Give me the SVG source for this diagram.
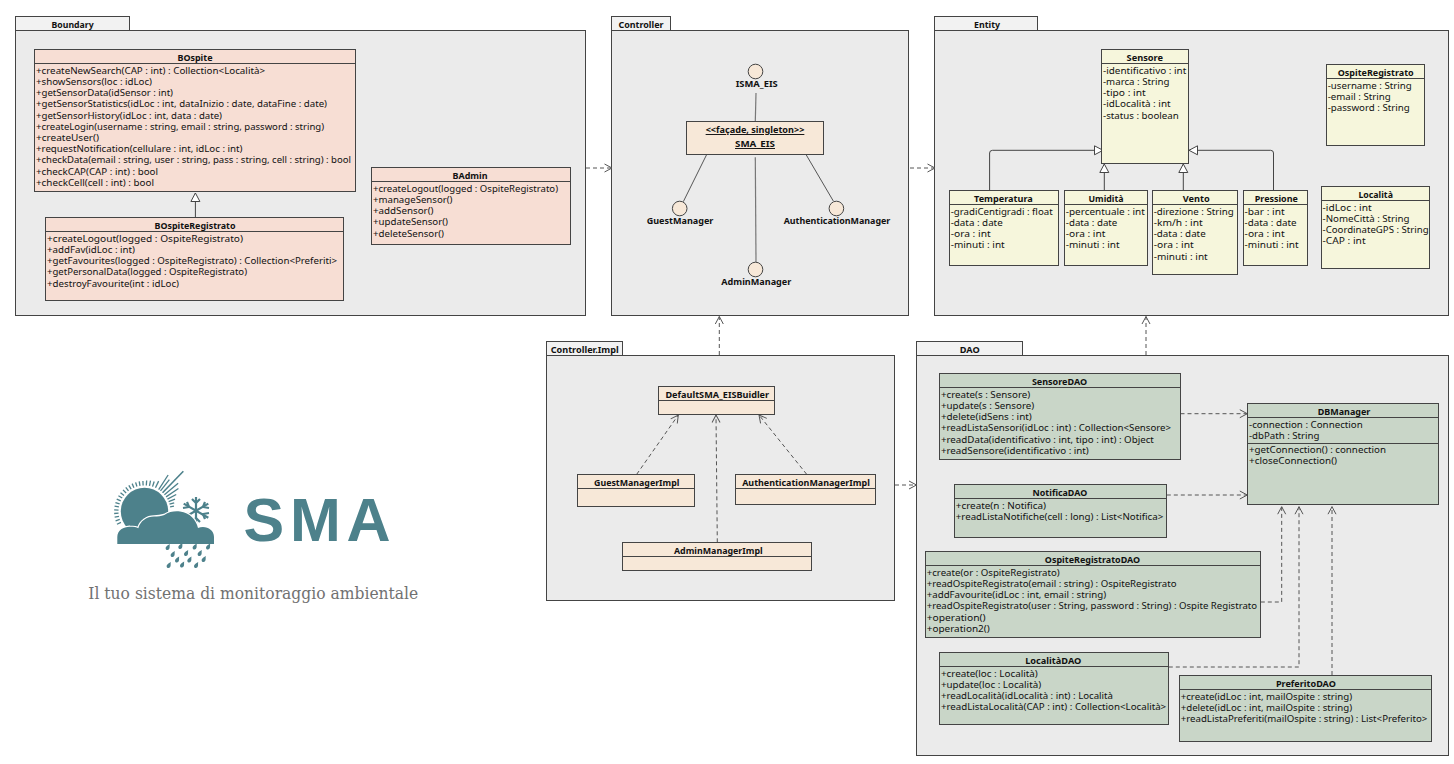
<svg xmlns="http://www.w3.org/2000/svg" width="1454" height="764" viewBox="0 0 1454 764">
<style>
text{font-family:"Noto Sans","Open Sans","DejaVu Sans",sans-serif;font-size:9.6px;fill:#111}
.t{font-weight:700;text-anchor:middle}
.u{text-decoration:underline}
.pk rect,.cl rect{stroke:#444;stroke-width:1}
.pk rect{fill:#ebebeb}
.pk rect.tab{fill:#f2f2f2}
.cl line{stroke:#444;stroke-width:1}
.b rect{fill:#f7ded4}
.c rect{fill:#f7e8d8}
.e rect{fill:#f6f6dc}
.d rect{fill:#c9d6c8}
.if circle{fill:#f7e8d8;stroke:#444;stroke-width:1}
.sol{fill:none;stroke:#555;stroke-width:1}
.gr{fill:none;stroke:#777;stroke-width:1.2}
.gen{fill:none;stroke:#444;stroke-width:1;marker-end:url(#tri)}
.dep{fill:none;stroke:#555;stroke-width:1;stroke-dasharray:4 3;marker-end:url(#open)}
.ray{stroke:#4d818b;stroke-width:1.3}
.logo{fill:#4d818b}
.sn{stroke:#4d818b;stroke-width:2.2;fill:none}
</style>
<defs>
<marker id="open" markerUnits="userSpaceOnUse" markerWidth="12" markerHeight="12" refX="10" refY="6" orient="auto"><path d="M2.5 2L10 6L2.5 10" fill="none" stroke="#555" stroke-width="1"/></marker>
<marker id="tri" markerUnits="userSpaceOnUse" markerWidth="12" markerHeight="12" refX="10" refY="6" orient="auto"><path d="M1.5 1.5L10 6L1.5 10.5Z" fill="#fff" stroke="#444" stroke-width="1"/></marker>
<path id="drop" d="M2.5 -4C2 -2 3 0 1.5 1.6C0 2.8 -2.2 1.4 -1.6 -.6C-1 -2 1 -3 2.5 -4Z"/>
</defs>

<g id="pkg-boundary" class="pk"><rect class="tab" x="15.5" y="16.5" width="114" height="14"/><rect x="15.5" y="30.5" width="570" height="285"/><text class="t" x="72.6" y="27.8" textLength="42" lengthAdjust="spacingAndGlyphs">Boundary</text></g>
<g id="pkg-controller" class="pk"><rect class="tab" x="611.5" y="16.5" width="59" height="14"/><rect x="611.5" y="30.5" width="297" height="285"/><text class="t" x="641" y="27.8" textLength="45" lengthAdjust="spacingAndGlyphs">Controller</text></g>
<g id="pkg-entity" class="pk"><rect class="tab" x="934.5" y="16.5" width="103" height="14"/><rect x="934.5" y="30.5" width="514" height="285"/><text class="t" x="987" y="27.8" textLength="26" lengthAdjust="spacingAndGlyphs">Entity</text></g>
<g id="pkg-controller-impl" class="pk"><rect class="tab" x="546.5" y="341.5" width="76" height="14"/><rect x="546.5" y="355.5" width="348" height="245"/><text class="t" x="584.7" y="353" textLength="68" lengthAdjust="spacingAndGlyphs">Controller.Impl</text></g>
<g id="pkg-dao" class="pk"><rect class="tab" x="916.5" y="341.5" width="106" height="14"/><rect x="916.5" y="355.5" width="532" height="400"/><text class="t" x="969.7" y="353" textLength="20" lengthAdjust="spacingAndGlyphs">DAO</text></g>

<g id="connectors">
<path class="dep" d="M586 168H612"/>
<path class="dep" d="M910 168H935"/>
<path class="dep" d="M719.3 355V316.5"/>
<path class="dep" d="M1146 355V316.5"/>
<path class="dep" d="M895 485H916.5"/>
<path class="gen" d="M195.4 217V193"/>
<path class="gr" d="M756 93L755.3 121"/>
<path class="sol" d="M706.7 154.5L683.3 201.7"/>
<path class="sol" d="M806 154.5L833.3 201"/>
<path class="gr" d="M755.3 157.3L756 262"/>
<path class="gen" d="M989.6 190V153Q989.6 150.3 992.6 150.3H1103"/>
<path class="gen" d="M1273.5 190V153Q1273.5 150.3 1270.5 150.3H1189"/>
<path class="gen" d="M1104.3 190V164"/>
<path class="gen" d="M1183.3 190V164"/>
<path class="dep" d="M636.7 474.3L678.3 415"/>
<path class="dep" d="M806.7 474.3L759 415"/>
<path class="dep" d="M717.3 542.3L716 415"/>
<path class="dep" d="M1180.5 413.7H1247.3"/>
<path class="dep" d="M1166.8 495H1247.3"/>
<path class="dep" d="M1260.8 602H1281.7V506.7"/>
<path class="dep" d="M1168.8 667H1299V506.7"/>
<path class="dep" d="M1332 675V506.7"/>
</g>

<g id="BOspite" class="cl b"><rect x="34.5" y="49.5" width="321" height="142"/><line x1="34.5" y1="63.5" x2="355.5" y2="63.5"/>
<text class="t" x="195" y="61" textLength="35" lengthAdjust="spacingAndGlyphs">BOspite</text>
<text x="36" y="74" textLength="229" lengthAdjust="spacingAndGlyphs">+createNewSearch(CAP : int) : Collection&lt;Località&gt;</text>
<text x="36" y="85" textLength="116" lengthAdjust="spacingAndGlyphs">+showSensors(loc : idLoc)</text>
<text x="36" y="96" textLength="137" lengthAdjust="spacingAndGlyphs">+getSensorData(idSensor : int)</text>
<text x="36" y="107" textLength="291" lengthAdjust="spacingAndGlyphs">+getSensorStatistics(idLoc : int, dataInizio : date, dataFine : date)</text>
<text x="36" y="119" textLength="186" lengthAdjust="spacingAndGlyphs">+getSensorHistory(idLoc : int, data : date)</text>
<text x="36" y="130" textLength="288" lengthAdjust="spacingAndGlyphs">+createLogin(username : string, email : string, password : string)</text>
<text x="36" y="141" textLength="63" lengthAdjust="spacingAndGlyphs">+createUser()</text>
<text x="36" y="152" textLength="206.5" lengthAdjust="spacingAndGlyphs">+requestNotification(cellulare : int, idLoc : int)</text>
<text x="36" y="163" textLength="315" lengthAdjust="spacingAndGlyphs">+checkData(email : string, user : string, pass : string, cell : string) : bool</text>
<text x="36" y="175" textLength="122" lengthAdjust="spacingAndGlyphs">+checkCAP(CAP : int) : bool</text>
<text x="36" y="186" textLength="118" lengthAdjust="spacingAndGlyphs">+checkCell(cell : int) : bool</text>
</g>
<g id="BOspiteRegistrato" class="cl b"><rect x="45.5" y="217.5" width="298" height="83"/><line x1="45.5" y1="231.5" x2="343.5" y2="231.5"/>
<text class="t" x="195" y="229" textLength="81" lengthAdjust="spacingAndGlyphs">BOspiteRegistrato</text>
<text x="47" y="242" textLength="196" lengthAdjust="spacingAndGlyphs">+createLogout(logged : OspiteRegistrato)</text>
<text x="47" y="253" textLength="88" lengthAdjust="spacingAndGlyphs">+addFav(idLoc : int)</text>
<text x="47" y="264" textLength="290" lengthAdjust="spacingAndGlyphs">+getFavourites(logged : OspiteRegistrato) : Collection&lt;Preferiti&gt;</text>
<text x="47" y="275" textLength="200" lengthAdjust="spacingAndGlyphs">+getPersonalData(logged : OspiteRegistrato)</text>
<text x="47" y="287" textLength="132" lengthAdjust="spacingAndGlyphs">+destroyFavourite(int : idLoc)</text>
</g>
<g id="BAdmin" class="cl b"><rect x="371.5" y="167.5" width="199" height="77"/><line x1="371.5" y1="181.5" x2="570.5" y2="181.5"/>
<text class="t" x="470" y="179" textLength="35" lengthAdjust="spacingAndGlyphs">BAdmin</text>
<text x="373" y="192" textLength="185" lengthAdjust="spacingAndGlyphs">+createLogout(logged : OspiteRegistrato)</text>
<text x="373" y="203" textLength="79.5" lengthAdjust="spacingAndGlyphs">+manageSensor()</text>
<text x="373" y="214" textLength="60.5" lengthAdjust="spacingAndGlyphs">+addSensor()</text>
<text x="373" y="225" textLength="75" lengthAdjust="spacingAndGlyphs">+updateSensor()</text>
<text x="373" y="237" textLength="71" lengthAdjust="spacingAndGlyphs">+deleteSensor()</text>
</g>

<g id="ISMA_EIS" class="if"><circle cx="755.5" cy="71.5" r="7.3"/><text class="t" x="756.7" y="87" textLength="42" lengthAdjust="spacingAndGlyphs">ISMA_EIS</text></g>
<g id="SMA_EIS" class="cl c"><rect x="686.5" y="121.5" width="137" height="33"/>
<text class="t u" x="755" y="133" textLength="98.7" lengthAdjust="spacingAndGlyphs">&lt;&lt;façade, singleton&gt;&gt;</text>
<text class="t u" x="755" y="147" textLength="40" lengthAdjust="spacingAndGlyphs">SMA_EIS</text></g>
<g id="GuestManager" class="if"><circle cx="679.7" cy="208.5" r="7.3"/><text class="t" x="680" y="224" textLength="66.7" lengthAdjust="spacingAndGlyphs">GuestManager</text></g>
<g id="AuthenticationManager" class="if"><circle cx="836.4" cy="208.5" r="7.3"/><text class="t" x="837" y="224" textLength="106.7" lengthAdjust="spacingAndGlyphs">AuthenticationManager</text></g>
<g id="AdminManager" class="if"><circle cx="755.5" cy="269.5" r="7.3"/><text class="t" x="756.3" y="285" textLength="70" lengthAdjust="spacingAndGlyphs">AdminManager</text></g>

<g id="Sensore" class="cl e"><rect x="1101.5" y="49.5" width="87" height="114"/><line x1="1101.5" y1="63.5" x2="1188.5" y2="63.5"/>
<text class="t" x="1144.8" y="61" textLength="36.5" lengthAdjust="spacingAndGlyphs">Sensore</text>
<text x="1103" y="74" textLength="83.3" lengthAdjust="spacingAndGlyphs">-identificativo : int</text>
<text x="1103" y="85" textLength="66.5" lengthAdjust="spacingAndGlyphs">-marca : String</text>
<text x="1103" y="96" textLength="42.7" lengthAdjust="spacingAndGlyphs">-tipo : int</text>
<text x="1103" y="107" textLength="67.6" lengthAdjust="spacingAndGlyphs">-idLocalità : int</text>
<text x="1103" y="119" textLength="75.8" lengthAdjust="spacingAndGlyphs">-status : boolean</text>
</g>
<g id="OspiteRegistrato" class="cl e"><rect x="1326.5" y="64.5" width="98" height="81"/><line x1="1326.5" y1="78.5" x2="1424.5" y2="78.5"/>
<text class="t" x="1375.7" y="76" textLength="76" lengthAdjust="spacingAndGlyphs">OspiteRegistrato</text>
<text x="1327.7" y="89" textLength="84" lengthAdjust="spacingAndGlyphs">-username : String</text>
<text x="1327.7" y="100" textLength="63" lengthAdjust="spacingAndGlyphs">-email : String</text>
<text x="1327.7" y="111" textLength="82" lengthAdjust="spacingAndGlyphs">-password : String</text>
</g>
<g id="Localita" class="cl e"><rect x="1321.5" y="186.5" width="108" height="82"/><line x1="1321.5" y1="200.5" x2="1429.5" y2="200.5"/>
<text class="t" x="1375.7" y="198" textLength="34.5" lengthAdjust="spacingAndGlyphs">Località</text>
<text x="1322.6" y="211" textLength="49" lengthAdjust="spacingAndGlyphs">-idLoc : int</text>
<text x="1322.6" y="222" textLength="87" lengthAdjust="spacingAndGlyphs">-NomeCittà : String</text>
<text x="1322.6" y="233" textLength="106" lengthAdjust="spacingAndGlyphs">-CoordinateGPS : String</text>
<text x="1322.6" y="244" textLength="43" lengthAdjust="spacingAndGlyphs">-CAP : int</text>
</g>
<g id="Temperatura" class="cl e"><rect x="949.5" y="190.5" width="109" height="75"/><line x1="949.5" y1="204.5" x2="1058.5" y2="204.5"/>
<text class="t" x="1003.4" y="202" textLength="58.7" lengthAdjust="spacingAndGlyphs">Temperatura</text>
<text x="950.7" y="215" textLength="102" lengthAdjust="spacingAndGlyphs">-gradiCentigradi : float</text>
<text x="950.7" y="226" textLength="52" lengthAdjust="spacingAndGlyphs">-data : date</text>
<text x="950.7" y="237" textLength="40" lengthAdjust="spacingAndGlyphs">-ora : int</text>
<text x="950.7" y="248" textLength="54" lengthAdjust="spacingAndGlyphs">-minuti : int</text>
</g>
<g id="Umidita" class="cl e"><rect x="1064.5" y="190.5" width="83" height="75"/><line x1="1064.5" y1="204.5" x2="1147.5" y2="204.5"/>
<text class="t" x="1106" y="202" textLength="35" lengthAdjust="spacingAndGlyphs">Umidità</text>
<text x="1065.8" y="215" textLength="79" lengthAdjust="spacingAndGlyphs">-percentuale : int</text>
<text x="1065.8" y="226" textLength="51.5" lengthAdjust="spacingAndGlyphs">-data : date</text>
<text x="1065.8" y="237" textLength="39.6" lengthAdjust="spacingAndGlyphs">-ora : int</text>
<text x="1065.8" y="248" textLength="53.7" lengthAdjust="spacingAndGlyphs">-minuti : int</text>
</g>
<g id="Vento" class="cl e"><rect x="1152.5" y="190.5" width="85" height="84"/><line x1="1152.5" y1="204.5" x2="1237.5" y2="204.5"/>
<text class="t" x="1196.2" y="202" textLength="27" lengthAdjust="spacingAndGlyphs">Vento</text>
<text x="1153.7" y="215" textLength="80" lengthAdjust="spacingAndGlyphs">-direzione : String</text>
<text x="1153.7" y="226" textLength="49" lengthAdjust="spacingAndGlyphs">-km/h : int</text>
<text x="1153.7" y="237" textLength="52" lengthAdjust="spacingAndGlyphs">-data : date</text>
<text x="1153.7" y="248" textLength="40" lengthAdjust="spacingAndGlyphs">-ora : int</text>
<text x="1153.7" y="260" textLength="54" lengthAdjust="spacingAndGlyphs">-minuti : int</text>
</g>
<g id="Pressione" class="cl e"><rect x="1243.5" y="190.5" width="64" height="75"/><line x1="1243.5" y1="204.5" x2="1307.5" y2="204.5"/>
<text class="t" x="1276.3" y="202" textLength="43" lengthAdjust="spacingAndGlyphs">Pressione</text>
<text x="1244.6" y="215" textLength="40" lengthAdjust="spacingAndGlyphs">-bar : int</text>
<text x="1244.6" y="226" textLength="52" lengthAdjust="spacingAndGlyphs">-data : date</text>
<text x="1244.6" y="237" textLength="40" lengthAdjust="spacingAndGlyphs">-ora : int</text>
<text x="1244.6" y="248" textLength="54" lengthAdjust="spacingAndGlyphs">-minuti : int</text>
</g>

<g id="DefaultSMA_EISBuidler" class="cl c"><rect x="658.5" y="386.5" width="116" height="28"/><line x1="658.5" y1="400.5" x2="774.5" y2="400.5"/><text class="t" x="717.3" y="398.3" textLength="103.7" lengthAdjust="spacingAndGlyphs">DefaultSMA_EISBuidler</text></g>
<g id="GuestManagerImpl" class="cl c"><rect x="577.5" y="474.5" width="117" height="32"/><line x1="577.5" y1="488.5" x2="694.5" y2="488.5"/><text class="t" x="636.7" y="486" textLength="85.3" lengthAdjust="spacingAndGlyphs">GuestManagerImpl</text></g>
<g id="AuthenticationManagerImpl" class="cl c"><rect x="735.5" y="474.5" width="140" height="30"/><line x1="735.5" y1="488.5" x2="875.5" y2="488.5"/><text class="t" x="806" y="486" textLength="127.7" lengthAdjust="spacingAndGlyphs">AuthenticationManagerImpl</text></g>
<g id="AdminManagerImpl" class="cl c"><rect x="622.5" y="542.5" width="189" height="28"/><line x1="622.5" y1="556.5" x2="811.5" y2="556.5"/><text class="t" x="718.3" y="554" textLength="88.7" lengthAdjust="spacingAndGlyphs">AdminManagerImpl</text></g>

<g id="SensoreDAO" class="cl d"><rect x="939.5" y="373.5" width="241" height="86"/><line x1="939.5" y1="387.5" x2="1180.5" y2="387.5"/>
<text class="t" x="1059.5" y="385" textLength="55.2" lengthAdjust="spacingAndGlyphs">SensoreDAO</text>
<text x="940.9" y="398" textLength="89.3" lengthAdjust="spacingAndGlyphs">+create(s : Sensore)</text>
<text x="940.9" y="409" textLength="93.3" lengthAdjust="spacingAndGlyphs">+update(s : Sensore)</text>
<text x="940.9" y="420" textLength="90.9" lengthAdjust="spacingAndGlyphs">+delete(idSens : int)</text>
<text x="940.9" y="431" textLength="230.2" lengthAdjust="spacingAndGlyphs">+readListaSensori(idLoc : int) : Collection&lt;Sensore&gt;</text>
<text x="940.9" y="443" textLength="213" lengthAdjust="spacingAndGlyphs">+readData(identificativo : int, tipo : int) : Object</text>
<text x="940.9" y="454" textLength="147.9" lengthAdjust="spacingAndGlyphs">+readSensore(identificativo : int)</text>
</g>
<g id="NotificaDAO" class="cl d"><rect x="954.5" y="484.5" width="212" height="53"/><line x1="954.5" y1="498.5" x2="1166.5" y2="498.5"/>
<text class="t" x="1059.9" y="496" textLength="54.6" lengthAdjust="spacingAndGlyphs">NotificaDAO</text>
<text x="955.8" y="509" textLength="90.3" lengthAdjust="spacingAndGlyphs">+create(n : Notifica)</text>
<text x="955.8" y="520" textLength="207.4" lengthAdjust="spacingAndGlyphs">+readListaNotifiche(cell : long) : List&lt;Notifica&gt;</text>
</g>
<g id="DBManager" class="cl d"><rect x="1247.5" y="403.5" width="191" height="101"/><line x1="1247.5" y1="417.5" x2="1438.5" y2="417.5"/><line x1="1247.5" y1="443.5" x2="1438.5" y2="443.5"/>
<text class="t" x="1344" y="415" textLength="52.6" lengthAdjust="spacingAndGlyphs">DBManager</text>
<text x="1249" y="428.3" textLength="113.8" lengthAdjust="spacingAndGlyphs">-connection : Connection</text>
<text x="1249" y="439.3" textLength="70.5" lengthAdjust="spacingAndGlyphs">-dbPath : String</text>
<text x="1249" y="453" textLength="137" lengthAdjust="spacingAndGlyphs">+getConnection() : connection</text>
<text x="1249" y="464" textLength="88.1" lengthAdjust="spacingAndGlyphs">+closeConnection()</text>
</g>
<g id="OspiteRegistratoDAO" class="cl d"><rect x="925.5" y="551.5" width="335" height="86"/><line x1="925.5" y1="565.5" x2="1260.5" y2="565.5"/>
<text class="t" x="1092.5" y="563" textLength="95.3" lengthAdjust="spacingAndGlyphs">OspiteRegistratoDAO</text>
<text x="926.7" y="576" textLength="133" lengthAdjust="spacingAndGlyphs">+create(or : OspiteRegistrato)</text>
<text x="926.7" y="587" textLength="249.8" lengthAdjust="spacingAndGlyphs">+readOspiteRegistrato(email : string) : OspiteRegistrato</text>
<text x="926.7" y="598" textLength="179.4" lengthAdjust="spacingAndGlyphs">+addFavourite(idLoc : int, email : string)</text>
<text x="926.7" y="609" textLength="330.4" lengthAdjust="spacingAndGlyphs">+readOspiteRegistrato(user : String, password : String) : Ospite Registrato</text>
<text x="926.7" y="621" textLength="59" lengthAdjust="spacingAndGlyphs">+operation()</text>
<text x="926.7" y="632" textLength="63.1" lengthAdjust="spacingAndGlyphs">+operation2()</text>
</g>
<g id="LocalitaDAO" class="cl d"><rect x="939.5" y="652.5" width="229" height="72"/><line x1="939.5" y1="666.5" x2="1168.5" y2="666.5"/>
<text class="t" x="1053.3" y="664" textLength="56.2" lengthAdjust="spacingAndGlyphs">LocalitàDAO</text>
<text x="940.9" y="677" textLength="96.9" lengthAdjust="spacingAndGlyphs">+create(loc : Località)</text>
<text x="940.9" y="688" textLength="100.2" lengthAdjust="spacingAndGlyphs">+update(loc : Località)</text>
<text x="940.9" y="699" textLength="172.1" lengthAdjust="spacingAndGlyphs">+readLocalità(idLocalità : int) : Località</text>
<text x="940.9" y="710" textLength="225.3" lengthAdjust="spacingAndGlyphs">+readListaLocalità(CAP : int) : Collection&lt;Località&gt;</text>
</g>
<g id="PreferitoDAO" class="cl d"><rect x="1179.5" y="675.5" width="252" height="66"/><line x1="1179.5" y1="689.5" x2="1431.5" y2="689.5"/>
<text class="t" x="1305.9" y="687" textLength="60" lengthAdjust="spacingAndGlyphs">PreferitoDAO</text>
<text x="1180.7" y="700" textLength="171.4" lengthAdjust="spacingAndGlyphs">+create(idLoc : int, mailOspite : string)</text>
<text x="1180.7" y="711" textLength="171.4" lengthAdjust="spacingAndGlyphs">+delete(idLoc : int, mailOspite : string)</text>
<text x="1180.7" y="722" textLength="246.7" lengthAdjust="spacingAndGlyphs">+readListaPreferiti(mailOspite : string) : List&lt;Preferito&gt;</text>
</g>

<g id="logo">
<g class="ray">
<line x1="144.5" y1="485.4" x2="144.5" y2="481" transform="rotate(-115 144.5 511.4)"/>
<line x1="144.5" y1="485.4" x2="144.5" y2="481" transform="rotate(-108 144.5 511.4)"/>
<line x1="144.5" y1="485.4" x2="144.5" y2="481" transform="rotate(-101 144.5 511.4)"/>
<line x1="144.5" y1="485.4" x2="144.5" y2="481" transform="rotate(-94 144.5 511.4)"/>
<line x1="144.5" y1="485.4" x2="144.5" y2="481" transform="rotate(-87 144.5 511.4)"/>
<line x1="144.5" y1="485.4" x2="144.5" y2="481" transform="rotate(-80 144.5 511.4)"/>
<line x1="144.5" y1="485.4" x2="144.5" y2="481" transform="rotate(-73 144.5 511.4)"/>
<line x1="144.5" y1="485.4" x2="144.5" y2="481" transform="rotate(-66 144.5 511.4)"/>
<line x1="144.5" y1="485.4" x2="144.5" y2="481" transform="rotate(-59 144.5 511.4)"/>
<line x1="144.5" y1="485.4" x2="144.5" y2="481" transform="rotate(-52 144.5 511.4)"/>
<line x1="144.5" y1="485.4" x2="144.5" y2="481" transform="rotate(-45 144.5 511.4)"/>
<line x1="144.5" y1="485.4" x2="144.5" y2="481" transform="rotate(-38 144.5 511.4)"/>
<line x1="144.5" y1="485.4" x2="144.5" y2="481" transform="rotate(-31 144.5 511.4)"/>
<line x1="144.5" y1="485.4" x2="144.5" y2="481" transform="rotate(-24 144.5 511.4)"/>
<line x1="144.5" y1="485.4" x2="144.5" y2="481" transform="rotate(-17 144.5 511.4)"/>
<line x1="144.5" y1="485.4" x2="144.5" y2="481" transform="rotate(-10 144.5 511.4)"/>
<line x1="144.5" y1="485.4" x2="144.5" y2="481" transform="rotate(-3 144.5 511.4)"/>
<line x1="144.5" y1="485.4" x2="144.5" y2="480.5" transform="rotate(4 144.5 511.4)"/>
<line x1="144.5" y1="485.4" x2="144.5" y2="480" transform="rotate(11 144.5 511.4)"/>
<line x1="144.5" y1="485.4" x2="144.5" y2="480" transform="rotate(18 144.5 511.4)"/>
<line x1="144.5" y1="485.4" x2="144.5" y2="478" transform="rotate(25 144.5 511.4)"/>
<line x1="144.5" y1="485.4" x2="144.5" y2="468" transform="rotate(33 144.5 511.4)"/>
<line x1="144.5" y1="485.4" x2="144.5" y2="471" transform="rotate(38 144.5 511.4)"/>
<line x1="144.5" y1="485.4" x2="144.5" y2="455.5" transform="rotate(44 144.5 511.4)" stroke-width="1.6"/>
<line x1="144.5" y1="485.4" x2="144.5" y2="467.5" transform="rotate(50 144.5 511.4)"/>
<line x1="144.5" y1="485.4" x2="144.5" y2="470.5" transform="rotate(56 144.5 511.4)"/>
<line x1="144.5" y1="485.4" x2="144.5" y2="475.5" transform="rotate(62 144.5 511.4)"/>
<line x1="144.5" y1="485.4" x2="144.5" y2="478.5" transform="rotate(68 144.5 511.4)"/>
<line x1="144.5" y1="485.4" x2="144.5" y2="480.5" transform="rotate(74 144.5 511.4)"/>
<line x1="144.5" y1="485.4" x2="144.5" y2="481.5" transform="rotate(80 144.5 511.4)"/>
</g>
<circle class="logo" cx="144.5" cy="511.4" r="23.7"/>
<g class="sn"><path d="M196 497V525M183.7 503.6L208.3 517.8M183.7 517.8L208.3 503.6"/><path d="M192 499L196 503L200 499M192 522L196 518L200 522M183 508L189 507L187 502M209 508L203 507L205 502M183 513L189 514L187 519M209 513L203 514L205 519"/></g>
<path class="logo" stroke="#fff" stroke-width="2.4" paint-order="stroke" d="M117.3 544V537C117.3 530 124 526.5 130 526.7C134 526.7 136.5 527 138.3 528.3C140 521 147 516.5 154 516.5C158 516.5 161 516 164.3 515C169 511.5 175 511 180 511.5C190 512.5 196 520 198 528C205 525 214 529 214 537V544Z"/>
<g class="logo">
<use href="#drop" x="167.3" y="548"/><use href="#drop" x="180" y="547"/><use href="#drop" x="194.3" y="547.5"/><use href="#drop" x="207.7" y="547.5"/>
<use href="#drop" x="172.3" y="555"/><use href="#drop" x="185.7" y="554"/><use href="#drop" x="199.3" y="554"/>
<use href="#drop" x="176.7" y="560.5"/><use href="#drop" x="189" y="560.5"/><use href="#drop" x="203.3" y="560"/>
<use href="#drop" x="168.3" y="566"/><use href="#drop" x="181.7" y="565.5"/><use href="#drop" x="195.7" y="566"/>
</g>
<text x="243.5 290 346.5" y="540.7" style="font-family:'Liberation Sans',sans-serif;font-size:61px;font-weight:700;fill:#4d818b">SMA</text>
<text x="88.3" y="599" textLength="330" lengthAdjust="spacingAndGlyphs" style="font-family:'DejaVu Serif',serif;font-size:16.5px;fill:#717171">Il tuo sistema di monitoraggio ambientale</text>
</g>
</svg>
